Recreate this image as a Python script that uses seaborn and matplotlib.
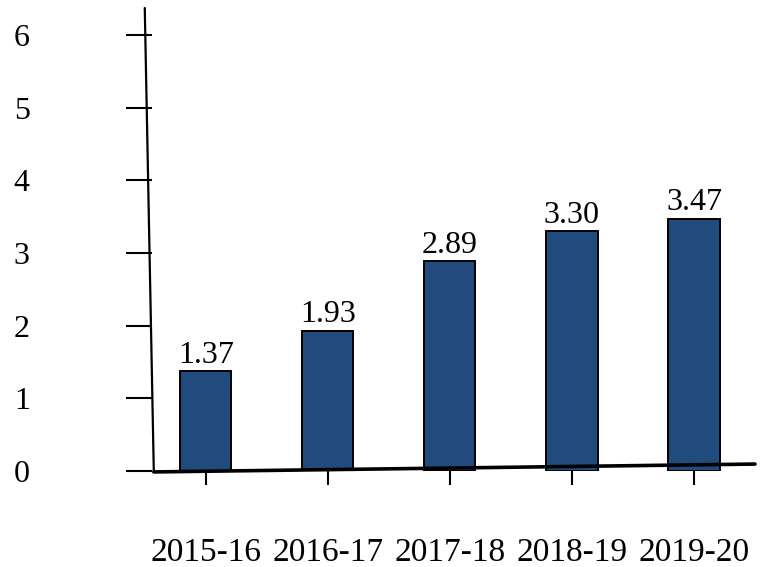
import matplotlib
matplotlib.use("Agg")
import matplotlib.pyplot as plt
import seaborn as sns
import pandas as pd
from matplotlib.lines import Line2D

# ---------------------------------------------------------
# DATA
# ---------------------------------------------------------
years = ["2015-16", "2016-17", "2017-18", "2018-19", "2019-20"]
values = [1.37, 1.93, 2.89, 3.30, 3.47]
y_ticks = [0, 1, 2, 3, 4, 5, 6]

BAR_COLOR = "#214A7D"

sns.set_theme(style="white")
plt.rcParams["font.family"] = ["Liberation Serif", "DejaVu Serif"]
plt.rcParams["text.color"] = "black"
plt.rcParams["xtick.color"] = "black"
plt.rcParams["ytick.color"] = "black"

df = pd.DataFrame({"year": years, "value": values})

fig = plt.figure(figsize=(7.79, 5.67), dpi=100)
ax = fig.add_axes([152 / 779, 1 - 471 / 567, (755 - 152) / 779, (471 - 8) / 567])

sns.barplot(data=df, x="year", y="value", color=BAR_COLOR, width=0.42,
            edgecolor="black", linewidth=1.4, saturation=1, ax=ax)

ax.bar_label(ax.containers[0], labels=[f"{v:.2f}" for v in values],
             padding=1, fontsize=23, color="black")

ax.set_xlim(-0.44, 4.5)
ax.set_ylim(0, 6.37)
ax.set_yticks(y_ticks)
ax.set_xlabel("")
ax.set_ylabel("")

# slanted hand-drawn looking axes lines
for s in ax.spines.values():
    s.set_visible(False)
ax.add_line(Line2D([-0.012, 0.003], [1.0, -0.002], transform=ax.transAxes,
                   color="black", linewidth=1.6, clip_on=False))
ax.add_line(Line2D([0.003, 1.0], [-0.002, 0.015], transform=ax.transAxes,
                   color="black", linewidth=2.6, clip_on=False))

ax.tick_params(axis="y", direction="out", length=19, width=1.5,
               pad=69, labelsize=23, left=True)
ax.tick_params(axis="x", direction="out", length=10, width=1.5,
               pad=38, labelsize=24, bottom=True)

fig.savefig("out.png", dpi=100)
